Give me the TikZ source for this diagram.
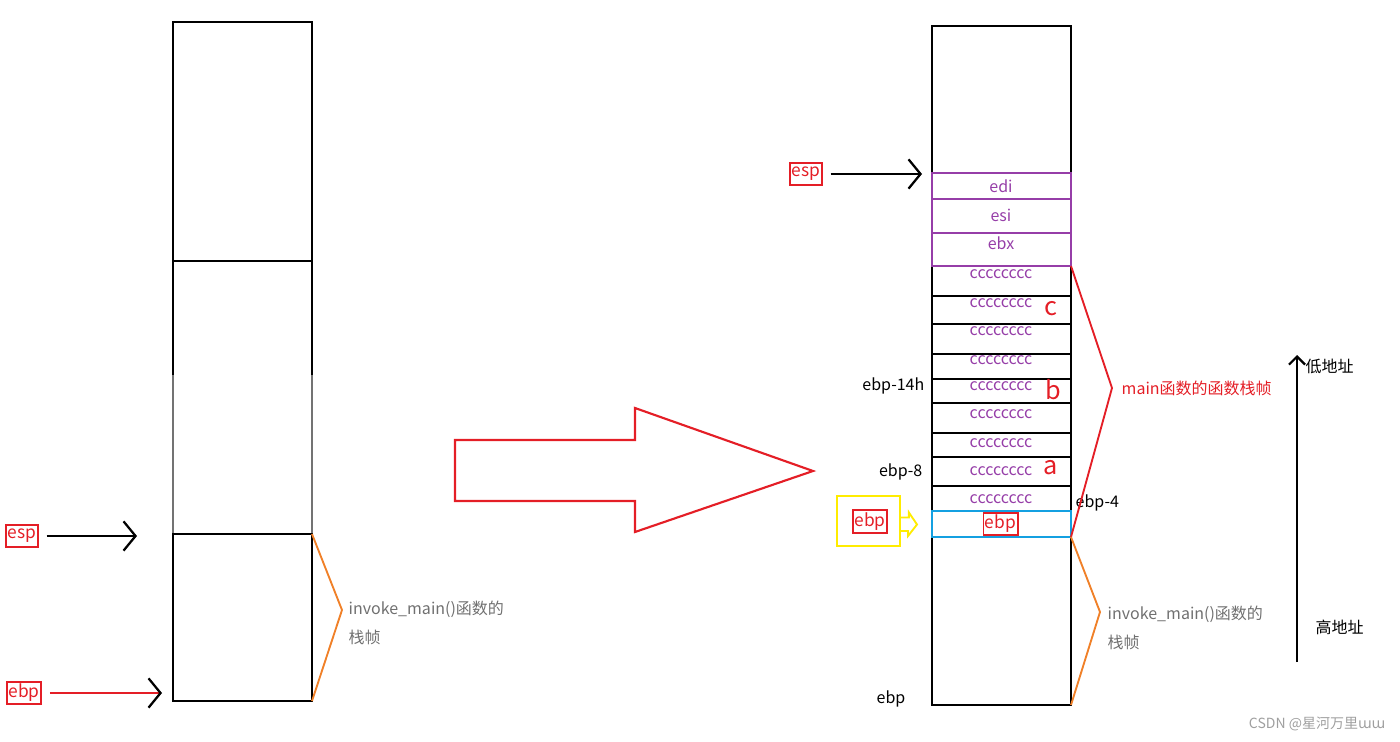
\documentclass[tikz,border=0pt]{standalone}
\usepackage{fontspec}
\setmainfont{Noto Sans CJK SC}
\newfontfamily\dvfont{DejaVu Sans}
\usepackage{tikz}
\usetikzlibrary{positioning,arrows.meta}

\definecolor{stkred}{RGB}{228,30,38}
\definecolor{stkpurple}{RGB}{150,62,168}
\definecolor{stkblue}{RGB}{20,160,225}
\definecolor{stkorange}{RGB}{240,128,40}
\definecolor{stkyellow}{RGB}{255,236,0}
\definecolor{stkgray}{RGB}{112,112,112}

\begin{document}
\begin{tikzpicture}[
  x=0.75pt, y=-0.75pt,
  font=\fontsize{12}{14}\selectfont,
  stackline/.style={draw=black, line width=1.9pt},
  purpleline/.style={draw=stkpurple, line width=1.6pt},
  regbox/.style={draw=stkred, text=stkred, line width=1.3pt, inner sep=1.2pt, minimum height=17pt, font=\fontsize{13}{15}\selectfont},
  ptr/.style={line width=1.3pt, -{Straight Barb[length=9pt, width=22pt, line width=1.7pt, color=black]}},
  celltext/.style={text=stkpurple},
  varname/.style={text=stkred, font=\fontsize{19}{22}\selectfont},
  frametext/.style={text=stkgray, anchor=west, font=\fontsize{12}{14}\selectfont},
  offset/.style={text=black}
]
\useasboundingbox (0,0) rectangle (1400,742);

% left stack, before the call
\draw[stackline] (173,22) rectangle (312,261);
\draw[stackline] (173,375) -- (173,261) -- (312,261) -- (312,375);
\draw[draw=black!55, line width=1.6pt] (173,375) -- (173,534) (312,375) -- (312,534);
\draw[stackline] (173,534) rectangle (312,701);

\node[regbox] (espL) at (22,536) {esp};
\coordinate (espLtip) at (137,536);
\draw[ptr, shorten <=6pt] (espL) -- (espLtip);

\node[regbox] (ebpL) at (24,693) {ebp};
\coordinate (ebpLtip) at (162,693);
\draw[ptr, draw=stkred, shorten <=6pt] (ebpL) -- (ebpLtip);

\coordinate (invLtop) at (312,534);
\coordinate (invLmid) at (342,610);
\coordinate (invLbot) at (312,701);
\draw[stkorange, line width=1.4pt] (invLtop) -- (invLmid) -- (invLbot);
\node[frametext] (invL) at (344,609) {invoke\_main()函数的};
\node[frametext] (invL2) at (344,637) {栈帧};

% big arrow
\draw[stkred, line width=1.6pt] (455,440) -- (635,440) -- (635,408) -- (813,471)
  -- (635,532) -- (635,501) -- (455,501) -- cycle;

% right stack, after the prologue of main
\draw[stackline] (932,26) rectangle (1071,173);
\foreach \ya/\yb in {266/296,296/324,324/354,354/379,379/403,403/433,433/457,457/486,486/511}
  \draw[stackline] (932,\ya) rectangle (1071,\yb);
\draw[stackline] (932,537) rectangle (1071,705);
\foreach \ya/\yb in {173/199,199/233,233/266}
  \draw[purpleline] (932,\ya) rectangle (1071,\yb);
\draw[draw=stkblue, line width=1.6pt] (932,511) rectangle (1071,537);

\foreach \y/\t in {186/edi,215/esi,243/ebx}
  \node[celltext] (reg-\t) at (1001,\y) {\t};
\foreach \y [count=\i] in {274,303,331,360,386,414,443,471,499}
  \node[celltext] (cc\i) at (1001,\y) {cccccccc};
\node[regbox] (ebpSaved) at (1000.5,524) {ebp};

\node[varname] (varc) at (1051,309) {c};
\node[varname] (varb) at (1053,390) {b};
\node[varname] (vara) at (1051,468) {a};

\node[offset, anchor=east] (off14) at (929,386) {ebp-14h};
\node[offset, anchor=east] (off8) at (927,472) {ebp-8};
\node[offset, anchor=west] (off4) at (1071,503) {ebp-4};
\node[offset] (ebpBot) at (891,699) {ebp};

\node[regbox] (espR) at (806,174) {esp};
\coordinate (espRtip) at (922,174);
\draw[ptr, shorten <=6pt] (espR) -- (espRtip);

\node[draw=stkyellow, line width=1.6pt, minimum width=47pt, minimum height=37pt] (yel) at (868.5,521) {};
\node[regbox] (ebpPush) at (870,521.5) {ebp};
\draw[stkyellow, line width=1.4pt] (yel.east) ++(0,-3.5) -- ++(8,0) -- ++(0,-5) -- (917,524.5)
  -- (908,536) -- ++(0,-5) -- ++(-8,0);

\coordinate (mainTop) at (1071,266);
\coordinate (mainMid) at (1112,388);
\coordinate (mainBot) at (1071,537);
\draw[stkred, line width=1.4pt] (mainTop) -- (mainMid) -- (mainBot);
\node[anchor=west, text=stkred] (mainlbl) at (1117,388) {main函数的函数栈帧};

\coordinate (invRtop) at (1071,537);
\coordinate (invRmid) at (1100,612);
\coordinate (invRbot) at (1071,705);
\draw[stkorange, line width=1.4pt] (invRtop) -- (invRmid) -- (invRbot);
\node[frametext] (invR) at (1103,614) {invoke\_main()函数的};
\node[frametext] (invR2) at (1103,642) {栈帧};

% address direction
\coordinate (highAddr) at (1297,662);
\coordinate (lowAddr) at (1297,355);
\draw[line width=1.7pt, -{Straight Barb[length=6pt, width=12pt]}] (highAddr) -- (lowAddr);
\node[anchor=west] (lowlbl) at (1301,366) {低地址};
\node[anchor=west] (highlbl) at (1311,627) {高地址};

\node[anchor=east, text=gray!75, font=\fontsize{10.5}{12}\selectfont] (mark) at (1390,724) {CSDN @星河万里{\dvfont ɯɯ}};
\end{tikzpicture}
\end{document}
